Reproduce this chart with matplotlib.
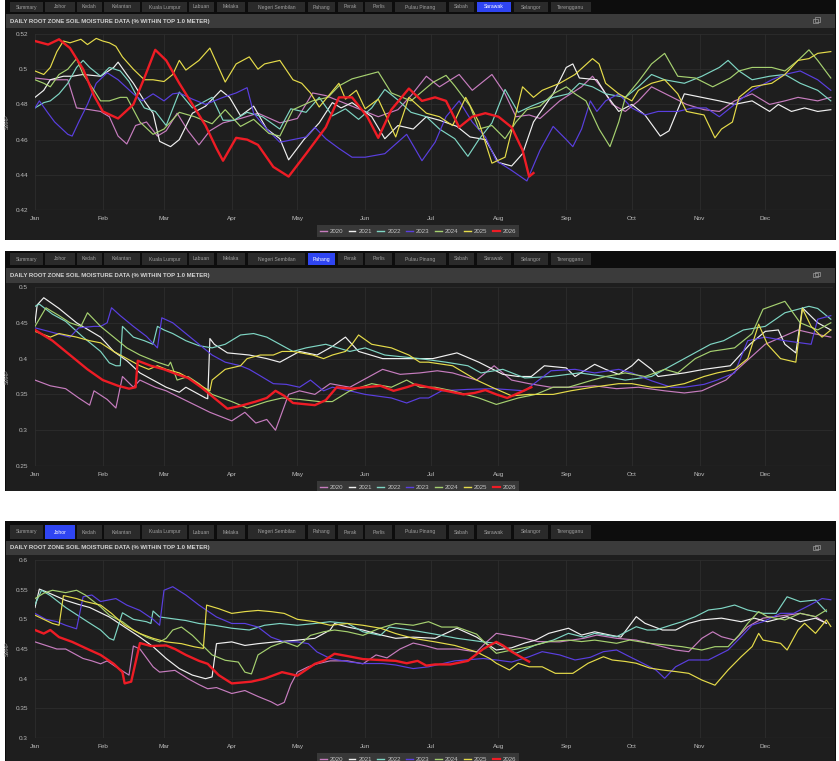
import matplotlib
matplotlib.use("Agg")
import matplotlib.pyplot as plt
from matplotlib.patches import Rectangle

plt.rcParams["font.family"] = ["Liberation Sans", "DejaVu Sans"]

W, H = 839, 761

# -----------------------------
# textes et categories
# -----------------------------
YEARS = ["2020", "2021", "2022", "2023", "2024", "2025", "2026"]
COLORS = ["#c77dbf", "#f0f0f0", "#7fd6c4", "#5a3fe0", "#a6d170", "#e6dc4a", "#ee1c25"]
MONTHS = ["Jan", "Feb", "Mar", "Apr", "May", "Jun", "Jul", "Aug", "Sep", "Oct", "Nov", "Dec"]
MONTH_DAYS = [0, 31, 59, 90, 120, 151, 181, 212, 243, 273, 304, 334]
TABS = ["Summary", "Johor", "Kedah", "Kelantan", "Kuala Lumpur", "Labuan", "Melaka",
        "Negeri Sembilan", "Pahang", "Perak", "Perlis", "Pulau Pinang", "Sabah",
        "Sarawak", "Selangor", "Terengganu"]
TITLE = "DAILY ROOT ZONE SOIL MOISTURE DATA (% WITHIN TOP 1.0 METER)"

# -----------------------------
# Sarawak (jour de l'annee, SMAP)
# -----------------------------
SARAWAK_2020 = [(0, .495), (7, .494), (15, .494), (19, .478), (25, .477), (30, .476), (34, .473), (38, .462),
                (42, .4575), (46, .468), (51, .47), (56, .462), (60, .465), (65, .475), (70, .465), (75, .457),
                (80, .465), (86, .4695), (94, .472), (102, .475), (112, .4695), (120, .472), (127, .4865), (133, .485),
                (145, .479), (157, .473), (166, .477), (172, .485), (179, .496), (185, .49), (194, .497), (200, .488),
                (209, .497), (215, .486), (220, .473), (226, .474), (231, .472), (240, .482), (250, .49), (255, .496),
                (260, .488), (264, .48), (270, .476), (276, .482), (282, .49), (290, .485), (298, .48), (306, .477),
                (313, .476), (320, .482), (328, .486), (336, .48), (343, .482), (349, .484), (358, .482), (364, .484)]
SARAWAK_2021 = [(0, .484), (4, .488), (7, .494), (13, .496), (17, .496), (22, .497), (30, .496), (36, .501),
                (38, .504), (42, .497), (45, .492), (50, .482), (54, .475), (57, .459), (62, .456), (66, .46),
                (72, .475), (78, .479), (85, .488), (89, .484), (94, .4735), (100, .479), (106, .466), (112, .4605),
                (116, .4485), (123, .46), (130, .4695), (136, .481), (140, .478), (145, .481), (154, .473), (160, .4605),
                (166, .468), (173, .466), (179, .473), (185, .471), (193, .4675), (199, .4615), (206, .46), (212, .447),
                (218, .445), (223, .452), (228, .47), (237, .486), (243, .501), (246, .503), (249, .495), (257, .494),
                (261, .486), (267, .476), (273, .48), (279, .474), (286, .462), (290, .465), (297, .486), (305, .484),
                (313, .482), (320, .48), (328, .482), (336, .476), (340, .48), (346, .476), (352, .478), (358, .476),
                (364, .477)]
SARAWAK_2022 = [(0, .478), (4, .481), (7, .482), (11, .486), (15, .492), (19, .501), (22, .505), (25, .501),
                (30, .496), (34, .501), (39, .499), (43, .493), (46, .486), (50, .478), (55, .476), (60, .468),
                (66, .487), (72, .478), (81, .484), (86, .471), (91, .471), (97, .4755), (104, .473), (112, .466),
                (117, .4775), (124, .4755), (130, .484), (136, .4735), (142, .4775), (148, .4715), (154, .478),
                (160, .4885), (166, .4825), (172, .4755), (179, .473), (185, .466), (192, .4605), (198, .4505),
                (203, .46), (209, .4695), (215, .4885), (221, .4755), (227, .479), (233, .482), (237, .484),
                (244, .486), (249, .492), (255, .49), (261, .486), (270, .484), (276, .49), (282, .497), (288, .494),
                (297, .492), (305, .496), (313, .501), (317, .505), (322, .499), (328, .494), (336, .496), (343, .497),
                (350, .492), (358, .488), (364, .482)]
SARAWAK_2023 = [(0, .478), (2, .482), (6, .475), (9, .47), (15, .463), (17, .462), (20, .47), (24, .48),
                (28, .492), (33, .498), (38, .494), (45, .486), (49, .482), (54, .486), (59, .482), (63, .486),
                (66, .4865), (72, .483), (78, .48), (86, .484), (92, .4865), (97, .4895), (100, .475), (106, .466),
                (112, .4585), (118, .46), (124, .4615), (128, .467), (133, .4605), (139, .455), (145, .45), (151, .45),
                (160, .452), (170, .463), (177, .448), (183, .4585), (188, .473), (194, .482), (200, .47), (206, .4615),
                (211, .448), (218, .4425), (225, .4365), (231, .454), (237, .4675), (243, .46), (246, .456), (250, .466),
                (254, .482), (257, .476), (261, .482), (267, .486), (273, .478), (279, .474), (285, .476), (294, .476),
                (301, .478), (307, .478), (313, .473), (320, .48), (328, .488), (337, .494), (343, .497), (350, .499),
                (358, .494), (364, .488)]
SARAWAK_2024 = [(0, .494), (4, .492), (7, .49), (11, .497), (15, .5), (19, .506), (22, .497), (27, .488),
                (30, .482), (34, .482), (39, .484), (42, .484), (48, .47), (54, .463), (59, .466), (66, .4755),
                (73, .473), (81, .469), (87, .477), (94, .4675), (100, .4715), (107, .4635), (112, .462), (118, .477),
                (127, .482), (134, .484), (139, .4905), (145, .4945), (151, .4965), (157, .4985), (163, .4865),
                (172, .482), (182, .4925), (188, .4965), (192, .4905), (199, .479), (203, .466), (209, .468),
                (215, .4605), (220, .47), (225, .477), (231, .479), (237, .486), (243, .49), (247, .486), (252, .482),
                (258, .466), (263, .456), (267, .47), (270, .484), (276, .493), (282, .503), (288, .509), (294, .496),
                (302, .495), (310, .49), (318, .495), (322, .499), (328, .501), (337, .501), (343, .499), (349, .505),
                (354, .511), (358, .505), (364, .495)]
SARAWAK_2025 = [(0, .499), (4, .497), (7, .501), (10, .51), (13, .516), (16, .515), (21, .517), (24, .514),
                (28, .5175), (31, .516), (34, .515), (37, .513), (40, .507), (45, .5), (50, .494), (54, .494),
                (59, .493), (63, .497), (66, .505), (69, .4995), (75, .505), (80, .512), (87, .4927), (92, .503),
                (98, .507), (102, .5), (105, .503), (112, .505), (118, .494), (122, .492), (126, .4865), (130, .4785),
                (139, .492), (142, .483), (147, .488), (151, .4775), (157, .483), (165, .4615), (171, .484),
                (179, .475), (185, .473), (191, .468), (197, .484), (203, .47), (209, .4466), (215, .45), (219, .47),
                (223, .49), (228, .484), (232, .488), (240, .492), (247, .497), (255, .506), (258, .503), (261, .492),
                (267, .486), (273, .482), (276, .488), (282, .492), (288, .494), (294, .486), (298, .476), (306, .474),
                (311, .461), (314, .466), (319, .47), (322, .484), (328, .49), (337, .492), (343, .497), (349, .505),
                (354, .506), (358, .509), (364, .51)]
SARAWAK_2026 = [(0, .516), (6, .514), (11, .517), (16, .512), (22, .5), (27, .485), (31, .476), (38, .472),
                (45, .48), (50, .495), (55, .511), (60, .505), (66, .492), (72, .48), (78, .468), (83, .455),
                (86, .448), (92, .461), (97, .46), (102, .457), (109, .4445), (116, .439), (124, .452), (133, .467),
                (139, .484), (145, .484), (152, .473), (157, .461), (163, .477), (171, .489), (177, .482), (183, .484),
                (188, .482), (194, .467), (200, .473), (206, .475), (212, .473), (218, .467), (223, .454), (226, .439),
                (228, .441)]

# -----------------------------
# Pahang
# -----------------------------
PAHANG_2020 = [(0, .37), (7, .362), (14, .358), (20, .345), (25, .335), (27, .355), (33, .343), (37, .331),
               (40, .375), (45, .36), (48, .37), (55, .36), (60, .355), (70, .34), (80, .325), (90, .313),
               (96, .325), (101, .31), (106, .315), (110, .3), (116, .35), (121, .355), (128, .35), (135, .365),
               (144, .36), (159, .385), (167, .378), (176, .38), (184, .383), (191, .38), (202, .37), (210, .39),
               (218, .37), (226, .365), (236, .36), (246, .36), (256, .362), (266, .358), (276, .36), (288, .355),
               (297, .352), (305, .355), (316, .37), (322, .387), (334, .42), (349, .44), (356, .435), (364, .43)]
PAHANG_2021 = [(0, .45), (1, .475), (4, .485), (11, .47), (19, .45), (30, .43), (36, .41), (42, .397),
               (48, .38), (54, .37), (60, .36), (66, .353), (69, .36), (78, .345), (79, .344), (80, .428),
               (82, .42), (88, .408), (98, .405), (106, .4), (112, .395), (121, .41), (129, .405), (136, .417),
               (142, .43), (148, .41), (159, .4), (176, .4), (182, .4), (193, .408), (203, .395), (214, .378),
               (221, .375), (227, .375), (233, .39), (243, .387), (247, .375), (256, .392), (261, .385), (267, .378),
               (273, .39), (276, .399), (282, .385), (285, .375), (297, .38), (306, .385), (318, .39), (327, .42),
               (334, .438), (340, .44), (343, .42), (348, .408), (351, .471), (358, .45), (364, .44)]
PAHANG_2022 = [(0, .473), (2, .476), (8, .462), (14, .452), (22, .43), (30, .41), (34, .394), (37, .39),
               (39, .39), (40, .445), (45, .43), (50, .425), (54, .42), (56, .445), (59, .44), (63, .435),
               (69, .425), (75, .418), (81, .415), (87, .42), (94, .433), (100, .435), (106, .43), (112, .42),
               (118, .41), (124, .415), (133, .42), (144, .41), (151, .415), (160, .405), (176, .4), (188, .395),
               (198, .39), (204, .38), (214, .385), (224, .373), (236, .375), (249, .38), (261, .375), (270, .37),
               (282, .375), (288, .385), (297, .4), (309, .42), (315, .425), (324, .44), (334, .445), (343, .464),
               (354, .473), (358, .47), (364, .455)]
PAHANG_2023 = [(0, .443), (10, .435), (16, .43), (20, .443), (27, .445), (30, .445), (33, .45), (35, .471),
               (39, .46), (45, .445), (51, .431), (56, .415), (58, .457), (63, .45), (69, .435), (75, .42),
               (81, .405), (87, .395), (94, .39), (98, .385), (103, .376), (109, .365), (115, .364), (121, .36),
               (126, .37), (132, .355), (136, .36), (144, .355), (151, .35), (163, .345), (170, .338), (176, .345),
               (180, .345), (186, .355), (198, .357), (210, .358), (224, .355), (236, .383), (247, .385), (256, .38),
               (267, .385), (273, .38), (282, .369), (291, .36), (297, .36), (306, .364), (312, .37), (320, .38),
               (326, .425), (334, .43), (343, .425), (355, .42), (358, .455), (364, .46)]
PAHANG_2024 = [(0, .445), (5, .471), (11, .46), (16, .45), (21, .445), (24, .464), (30, .445), (36, .43),
               (42, .415), (48, .405), (56, .395), (61, .39), (62, .395), (65, .37), (70, .375), (75, .365),
               (81, .35), (90, .34), (97, .331), (106, .34), (113, .345), (121, .343), (130, .34), (136, .34),
               (144, .355), (154, .365), (163, .36), (170, .37), (176, .36), (183, .36), (191, .355), (203, .345),
               (211, .336), (221, .345), (229, .35), (237, .36), (244, .36), (255, .37), (261, .375), (270, .38),
               (279, .375), (288, .385), (294, .38), (302, .4), (309, .41), (320, .415), (328, .435), (333, .469),
               (343, .48), (350, .45), (358, .44), (364, .45)]
PAHANG_2025 = [(0, .438), (7, .43), (11, .435), (19, .43), (25, .425), (30, .422), (36, .41), (42, .4),
               (48, .39), (52, .385), (56, .39), (60, .385), (66, .38), (72, .37), (77, .36), (80, .355),
               (81, .37), (87, .385), (94, .39), (97, .4), (103, .405), (109, .405), (113, .41), (118, .41),
               (127, .405), (132, .4), (136, .405), (142, .41), (145, .42), (148, .433), (154, .42), (163, .415),
               (171, .405), (176, .395), (180, .395), (191, .39), (202, .37), (209, .36), (218, .348), (226, .35),
               (237, .35), (245, .355), (255, .36), (267, .365), (273, .365), (282, .36), (288, .36), (297, .365),
               (306, .375), (312, .38), (320, .385), (326, .4), (331, .448), (335, .42), (341, .4), (348, .395),
               (351, .47), (355, .445), (360, .43), (364, .44)]
PAHANG_2026 = [(0, .44), (8, .425), (16, .405), (24, .385), (31, .37), (38, .362), (43, .358), (46, .36),
               (47, .397), (53, .39), (59, .385), (65, .378), (70, .373), (76, .36), (80, .35), (88, .33),
               (94, .334), (101, .34), (106, .345), (110, .355), (114, .348), (118, .338), (128, .335), (133, .342),
               (138, .36), (145, .358), (151, .36), (158, .362), (164, .355), (170, .36), (174, .364), (180, .36),
               (188, .355), (196, .35), (201, .352), (206, .356), (211, .35), (216, .345), (222, .353), (227, .36)]

# -----------------------------
# Johor
# -----------------------------
JOHOR_2020 = [(0, .462), (10, .45), (14, .45), (22, .434), (26, .43), (30, .425), (33, .43), (37, .42),
              (43, .406), (45, .455), (48, .45), (51, .435), (54, .42), (57, .411), (64, .414), (70, .4),
              (75, .39), (79, .383), (83, .385), (90, .375), (96, .38), (102, .37), (108, .361), (111, .355),
              (114, .36), (117, .39), (120, .411), (125, .42), (129, .425), (135, .43), (143, .43), (150, .425),
              (156, .44), (161, .435), (167, .45), (173, .46), (179, .455), (184, .45), (193, .45), (202, .445),
              (206, .46), (211, .4764), (218, .472), (224, .468), (230, .4625), (240, .462), (251, .468),
              (257, .4735), (266, .468), (275, .465), (281, .4596), (287, .4539), (293, .4483), (299, .4455),
              (305, .468), (310, .479), (314, .4707), (320, .465), (326, .4876), (333, .502), (338, .5045),
              (344, .507), (350, .5101), (357, .5045), (362, .4933)]
JOHOR_2021 = [(0, .52), (2, .551), (6, .545), (14, .532), (20, .525), (25, .52), (34, .504), (41, .487),
              (48, .47), (54, .454), (60, .434), (66, .417), (72, .406), (78, .4), (81, .403), (83, .459),
              (90, .462), (96, .456), (102, .459), (110, .462), (114, .463), (120, .465), (128, .468), (135, .482),
              (137, .493), (143, .487), (150, .482), (159, .473), (165, .468), (173, .47), (183, .468), (193, .485),
              (202, .47), (211, .4483), (218, .452), (224, .46), (229, .465), (235, .4764), (244, .485),
              (250, .4735), (256, .479), (263, .4735), (268, .47), (275, .5045), (279, .4933), (287, .482),
              (293, .482), (299, .4933), (305, .499), (314, .502), (323, .496), (329, .502), (335, .496),
              (344, .5045), (350, .496), (357, .502), (362, .4933)]
JOHOR_2022 = [(0, .525), (3, .549), (7, .54), (14, .52), (24, .496), (30, .482), (34, .468), (36, .465),
              (40, .511), (45, .5), (51, .496), (53, .493), (54, .514), (57, .504), (63, .501), (69, .498),
              (75, .493), (82, .49), (90, .485), (98, .482), (105, .49), (112, .493), (120, .49), (128, .493),
              (135, .496), (143, .493), (150, .479), (158, .473), (162, .487), (168, .484), (175, .48), (183, .475),
              (193, .468), (205, .462), (211, .4596), (220, .4427), (229, .4568), (237, .465), (244, .4764),
              (251, .47), (256, .4764), (266, .4707), (275, .4876), (280, .482), (284, .482), (291, .4904),
              (296, .496), (302, .5045), (308, .5157), (314, .5185), (320, .5241), (326, .5157), (333, .5101),
              (339, .5101), (344, .538), (350, .5298), (357, .5326), (362, .513)]
JOHOR_2023 = [(0, .51), (5, .5), (10, .496), (14, .49), (19, .484), (22, .538), (26, .541), (30, .53),
              (37, .535), (42, .524), (48, .515), (54, .5), (57, .49), (59, .549), (63, .555), (69, .541),
              (75, .524), (83, .504), (90, .493), (96, .493), (102, .487), (108, .47), (114, .462), (120, .462),
              (125, .459), (129, .445), (135, .434), (144, .428), (150, .4255), (159, .4255), (165, .423),
              (173, .417), (180, .42), (192, .43), (205, .434), (211, .4315), (218, .428), (226, .437),
              (232, .4455), (240, .44), (247, .4315), (254, .436), (260, .4455), (266, .4483), (272, .437),
              (278, .426), (284, .4146), (288, .4006), (293, .42), (299, .4315), (308, .4315), (317, .4483),
              (323, .4707), (328, .4904), (333, .496), (341, .5101), (347, .5101), (353, .5213), (360, .535),
              (364, .533)]
JOHOR_2024 = [(0, .535), (4, .544), (8, .549), (14, .545), (19, .549), (23, .541), (30, .521), (34, .507),
              (40, .496), (45, .482), (51, .47), (57, .462), (60, .468), (63, .482), (67, .487), (72, .473),
              (75, .462), (81, .44), (87, .431), (93, .428), (96, .411), (99, .408), (102, .44), (108, .454),
              (114, .462), (120, .454), (126, .473), (132, .479), (137, .482), (143, .479), (150, .473), (157, .484),
              (165, .493), (173, .49), (180, .496), (186, .487), (193, .487), (202, .475), (206, .46), (211, .4427),
              (218, .4483), (226, .4539), (235, .4625), (244, .465), (250, .4625), (256, .465), (266, .4596),
              (272, .465), (281, .4596), (288, .457), (296, .4539), (305, .4483), (311, .4539), (317, .4539),
              (322, .4735), (326, .4933), (331, .513), (335, .5045), (343, .499), (350, .5101), (357, .5045),
              (362, .5157)]
JOHOR_2025 = [(0, .507), (8, .493), (11, .49), (13, .54), (19, .535), (23, .53), (30, .524), (35, .51),
              (41, .49), (48, .476), (54, .468), (60, .462), (67, .459), (73, .4536), (77, .451), (78.5, .524),
              (84, .518), (90, .51), (96, .513), (102, .515), (108, .513), (114, .51), (120, .5), (128, .496),
              (135, .49), (143, .493), (150, .49), (158, .485), (165, .476), (173, .468), (183, .462), (192, .456),
              (202, .445), (208, .434), (211, .426), (217, .4146), (221, .426), (226, .42), (232, .42),
              (238, .409), (246, .409), (253, .426), (260, .437), (264, .4315), (270, .429), (275, .426),
              (281, .418), (287, .4146), (293, .412), (299, .409), (305, .3977), (311, .389), (317, .4146),
              (323, .437), (328, .454), (331, .4764), (333, .465), (341, .4596), (344, .4483), (349, .482),
              (352, .4933), (357, .4764), (362, .499), (364, .488)]
JOHOR_2026 = [(0, .482), (4, .476), (7, .482), (11, .47), (17, .462), (24, .45), (30, .44), (36, .425),
              (40, .411), (41, .392), (44, .395), (48, .46), (53, .455), (60, .456), (64, .45), (69, .44),
              (75, .43), (79, .425), (84, .406), (90, .392), (99, .395), (105, .4), (113, .411), (120, .405),
              (128, .425), (132, .43), (137, .442), (143, .438), (150, .433), (165, .43), (170, .426), (175, .43),
              (179, .422), (183, .424), (190, .424), (198, .43), (205, .45), (211, .462), (214, .456),
              (218, .4455), (222, .437), (226, .4287)]

SARAWAK = [SARAWAK_2020, SARAWAK_2021, SARAWAK_2022, SARAWAK_2023, SARAWAK_2024, SARAWAK_2025, SARAWAK_2026]
PAHANG = [PAHANG_2020, PAHANG_2021, PAHANG_2022, PAHANG_2023, PAHANG_2024, PAHANG_2025, PAHANG_2026]
JOHOR = [JOHOR_2020, JOHOR_2021, JOHOR_2022, JOHOR_2023, JOHOR_2024, JOHOR_2025, JOHOR_2026]

SARAWAK_TICKS = [0.42, 0.44, 0.46, 0.48, 0.50, 0.52]
PAHANG_TICKS = [0.25, 0.30, 0.35, 0.40, 0.45, 0.50]
JOHOR_TICKS = [0.30, 0.35, 0.40, 0.45, 0.50, 0.55, 0.60]

# position des onglets (px)
TAB_X = [(10, 43), (45, 75), (77, 102), (104, 140), (142, 187), (189, 214), (217, 245), (248, 305),
         (308, 335), (338, 363), (365, 392), (395, 446), (449, 474), (477, 511), (514, 548), (551, 591)]

fig = plt.figure(figsize=(W / 100, H / 100), dpi=100)
fig.patch.set_facecolor("white")


def box(x, y, w, h, color, z=-2, **kw):
    r = Rectangle((x / W, 1 - (y + h) / H), w / W, h / H, transform=fig.transFigure,
                  facecolor=color, zorder=z, **kw)
    if "edgecolor" not in kw:
        r.set_edgecolor("none")
    fig.add_artist(r)


def fy(y):
    return 1 - y / H


def panel(top, tab_y, tab_h, title_y, chart_y, chart_bot, plot_top, plot_bot, selected, series, ticks):
    # fonds
    box(5, top, 831, chart_bot - top, "#0d0d0d", z=-3)
    for name, (x0, x1) in zip(TABS, TAB_X):
        sel = name == selected
        box(x0, tab_y, x1 - x0, tab_h, "#2f45f2" if sel else "#2a2a2a", z=-2)
        fig.text((x0 + x1) / 2 / W, fy(tab_y + tab_h / 2), name, fontsize=3.6,
                 color="white" if sel else "#a0a0a0", ha="center", va="center")
    box(6, title_y, 829, chart_y - title_y, "#3b3b3b", z=-2)
    fig.text(10 / W, fy((title_y + chart_y) / 2), TITLE, fontsize=4.3, weight="bold",
             color="#d4d4d4", ha="left", va="center")
    # petite icone
    mid = (title_y + chart_y) / 2
    box(813, mid - 2, 5, 4, "none", z=2, edgecolor="#9a9a9a", linewidth=0.5)
    box(815, mid - 3.5, 5, 4, "none", z=2, edgecolor="#9a9a9a", linewidth=0.5)
    box(6, chart_y, 829, chart_bot - chart_y, "#1e1e1e", z=-2)

    ax = fig.add_axes([35 / W, fy(plot_bot), 798 / W, (plot_bot - plot_top) / H])
    ax.set_facecolor("none")
    for year, col, pts in zip(YEARS, COLORS, series):
        d, v = zip(*pts)
        last = year == "2026"
        ax.plot(d, v, color=col, lw=1.7 if last else 0.85, zorder=5 if last else 3,
                label=year, solid_joinstyle="round")
    ax.set_xlim(0, 365)
    ax.set_ylim(ticks[0], ticks[-1])
    ax.set_xticks(MONTH_DAYS, MONTHS)
    ax.set_yticks(ticks, [f"{t:g}" for t in ticks])
    ax.tick_params(length=0, labelsize=4.6, colors="#bcbcbc")
    ax.tick_params(axis="y", pad=5)
    ax.tick_params(axis="x", pad=4)
    ax.grid(color="#2d2d2d", lw=0.6)
    ax.set_axisbelow(True)
    ax.axhline(ticks[0], color="#474747", lw=0.8, zorder=1)
    for s in ax.spines.values():
        s.set_visible(False)
    ax.set_ylabel("SMAP", fontsize=3.8, color="#a8a8a8")
    ax.yaxis.set_label_coords(-0.031, 0.5)
    leg = ax.legend(loc="center", bbox_to_anchor=(418 / W, fy(plot_bot + 21)),
                    bbox_transform=fig.transFigure, ncol=7, fontsize=4.4, frameon=True,
                    fancybox=False, facecolor="#383838", edgecolor="none", framealpha=1,
                    handlelength=1.1, handletextpad=0.5, columnspacing=0.9, borderpad=0.55,
                    labelcolor="#c4c4c4")
    for h in leg.get_lines():
        h.set_linewidth(1.0 if h.get_color() != COLORS[-1] else 1.6)
    return ax


panel(0, 2, 10, 14, 28, 240, 34, 210, "Sarawak", SARAWAK, SARAWAK_TICKS)
panel(251, 253, 12, 268, 283, 491, 287, 466, "Pahang", PAHANG, PAHANG_TICKS)
panel(521, 525, 14, 541, 555, 761, 560, 738, "Johor", JOHOR, JOHOR_TICKS)

# bandes blanches entre les captures
box(0, 240, W, 11, "white", z=10)
box(0, 491, W, 30, "white", z=10)

fig.savefig("out.png", dpi=100, facecolor="white")
